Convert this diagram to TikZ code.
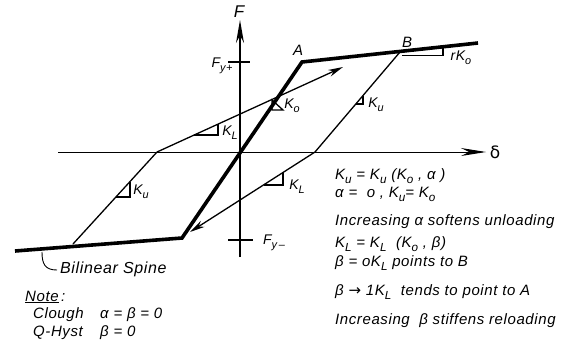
\documentclass[tikz,border=0pt]{standalone}
\usepackage{fontspec}
\setmainfont{Liberation Sans}
\newfontfamily\lettering[LetterSpace=4.0]{Liberation Sans}
\newfontfamily\symf{DejaVu Sans}
\usetikzlibrary{arrows.meta}
\newcommand\mysub[1]{\raisebox{-0.28em}{\fontsize{0.78em}{1em}\selectfont #1}}
\begin{document}
\begin{tikzpicture}[x=1pt,y=-1pt,
  thinln/.style={line width=1.3pt},
  thickln/.style={line width=3.6pt,line join=miter},
  lbl/.style={font=\lettering\fontsize{14}{16}\selectfont\itshape, inner sep=0pt},
  txt/.style={font=\lettering\fontsize{15}{17}\selectfont\itshape, inner sep=0pt, anchor=west},
  axarrow/.style={-{Stealth[length=23pt,width=8pt]}},
  ldarrow/.style={-{Stealth[length=15pt,width=7pt]}}]
\useasboundingbox (0,0) rectangle (570,341);
% key points
\coordinate (O) at (240,152);
\coordinate (Ftop) at (240,20);
\coordinate (Fbot) at (240,257);
\coordinate (Dl) at (58,152);
\coordinate (Dr) at (486,152);
\coordinate (A) at (302,62);
\coordinate (B) at (400,52);
\coordinate (S1) at (478,43);
\coordinate (C) at (182,238);
\coordinate (S2) at (15,251);
\coordinate (Ux) at (315,152);
\coordinate (Lx) at (157,152);
\coordinate (Ls) at (73,244);
\coordinate (Ra) at (343,67);
\coordinate (Rb) at (190,232);
% axes
\draw[line width=1pt, -{Stealth[length=25pt,width=8pt]}] (Dl) -- (Dr);
\draw[thinln, axarrow] (Fbot) -- (Ftop);
\coordinate (Tp1) at (228,62); \coordinate (Tp2) at (250,62);
\coordinate (Tm1) at (228,240); \coordinate (Tm2) at (253,240);
\draw[thinln] (Tp1) -- (Tp2);
\draw[thinln] (Tm1) -- (Tm2);
% bilinear spine
\draw[thickln] (S2) -- (C) -- (A) -- (S1);
% unloading / reloading
\draw[thinln] (B) -- (Ux);
\draw[thinln, ldarrow] (Ux) -- (Rb);
\draw[thinln] (Ls) -- (Lx);
\draw[thinln, ldarrow] (Lx) -- (Ra);
% slope triangles
\draw[thinln] (194,135) -- (218,135) -- (218,124);
\draw[thinln] (264,185) -- (283,185) -- (283,173);
\draw[thinln] (116,197) -- (130,197) -- (130,182);
\draw[thinln] (356,104) -- (363,104) -- (363,96);
\draw[thinln] (272,100) -- (272,110) -- (283,110) -- cycle;
\draw[thinln] (402,55.5) -- (443,55.5) -- (443,47.5);
% labels
\node[lbl, font=\lettering\fontsize{17}{19}\selectfont\itshape] (lF) at (239,12) {F};
\node[font=\symf\fontsize{17}{19}\selectfont, inner sep=0pt] (ld) at (495,152) {δ};
\node[lbl] (lFp) at (222,66) {F\mysub{y+}};
\node[lbl] (lFm) at (274,243) {F\mysub{y\,–}};
\node[lbl, font=\lettering\fontsize{15}{17}\selectfont\itshape] (lA) at (298,50) {A};
\node[lbl, font=\lettering\fontsize{15}{17}\selectfont\itshape] (lB) at (407,42) {B};
\node[lbl] (lKo) at (292,106) {K\mysub{o}};
\node[lbl] (lKL1) at (230,133) {K\mysub{L}};
\node[lbl] (lKu1) at (376,105) {K\mysub{u}};
\node[lbl] (lKL2) at (297,187) {K\mysub{L}};
\node[lbl] (lKu2) at (141,192) {K\mysub{u}};
\node[lbl] (lrKo) at (461,58) {rK\mysub{o}};
% bilinear spine label
\coordinate (H1) at (42,252);
\coordinate (H2) at (57,270);
\draw[line width=0.9pt] (H1) .. controls (42,264) and (45,270) .. (H2);
\node[txt, font=\lettering\fontsize{16}{18}\selectfont\itshape] (lbs) at (60,269) {Bilinear Spine};
% note
\node[txt] (lnote) at (25,297) {\underline{Note}\,:};
\node[txt] (lcl) at (33,315) {Clough};
\node[txt] (lcl2) at (100,315) {α = β = 0};
\node[txt] (lqh) at (33,333) {Q-Hyst};
\node[txt] (lqh2) at (100,333) {β = 0};
% right text block
\node[txt] (t1) at (335,176) {K\mysub{u} = K\mysub{u} (K\mysub{o} , α )};
\node[txt] (t2) at (335,194) {α =\ \ o , K\mysub{u}= K\mysub{o}};
\node[txt] (t3) at (335,222) {Increasing α softens unloading};
\node[txt] (t4) at (335,244) {K\mysub{L} = K\mysub{L}\ \ (K\mysub{o} , β)};
\node[txt] (t5) at (335,263) {β = oK\mysub{L} points to B};
\node[txt] (t6) at (335,292) {β {\symf→} 1K\mysub{L}\ \ tends\ to point to A};
\node[txt] (t7) at (335,321) {Increasing\ \ β stiffens reloading};
\end{tikzpicture}
\end{document}
